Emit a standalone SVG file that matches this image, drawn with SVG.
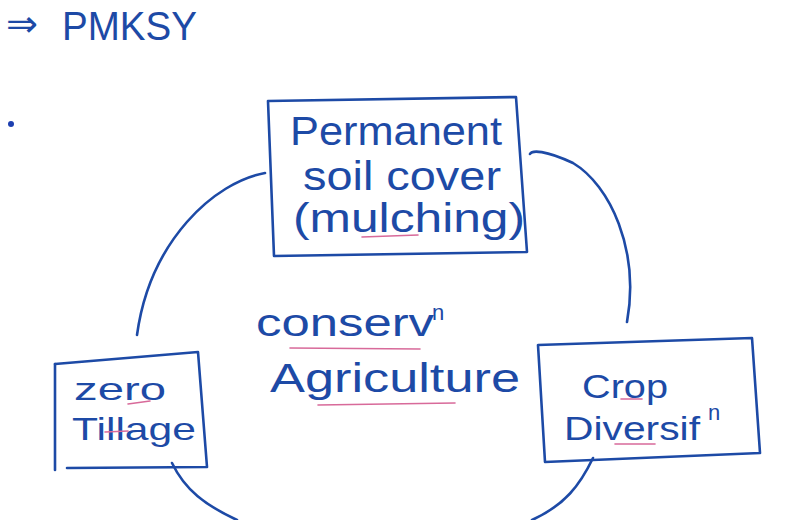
<svg xmlns="http://www.w3.org/2000/svg" width="800" height="520" viewBox="0 0 800 520">
<style>
.ink{fill:none;stroke:#1d4aa6;stroke-width:2.6;stroke-linecap:round;stroke-linejoin:round}
.hl{fill:none;stroke:#d86a9a;stroke-width:1.6;stroke-linecap:round}
.t{font-family:"Liberation Sans","DejaVu Sans",sans-serif;fill:#1d4aa6}
</style>
<rect width="800" height="520" fill="#ffffff"/>
<g id="title">
<text class="t" x="6" y="36" font-size="36" textLength="32" lengthAdjust="spacingAndGlyphs">⇒</text>
<text class="t" x="62" y="40" font-size="40" textLength="135" lengthAdjust="spacingAndGlyphs">PMKSY</text>
</g>
<circle cx="11" cy="124" r="3" fill="#1d3fb0"/>
<g id="connectors">
<path class="ink" d="M265,173 C215,182 150,240 137,335"/>
<path class="ink" d="M530,154 C532,150 545,150 573,163 C610,185 640,250 627,322"/>
<path class="ink" d="M172,463 C185,490 205,505 237,520"/>
<path class="ink" d="M593,458 C580,485 565,505 532,520"/>
</g>
<g id="node-permanent">
<path class="ink" d="M268,101 L516,97 L527,252 L274,256 Z"/>
<text class="t" x="290" y="145" font-size="40" textLength="212" lengthAdjust="spacingAndGlyphs">Permanent</text>
<text class="t" x="303" y="190" font-size="40" textLength="198" lengthAdjust="spacingAndGlyphs">soil cover</text>
<text class="t" x="293" y="232" font-size="40" textLength="232" lengthAdjust="spacingAndGlyphs">(mulching)</text>
<path class="hl" d="M362,237 L418,235"/>
</g>
<g id="node-zero">
<path class="ink" d="M55,364 L198,352 L207,467 L67,468"/>
<path class="ink" d="M55,364 L55,470"/>
<text class="t" x="74" y="400" font-size="32" textLength="92" lengthAdjust="spacingAndGlyphs">zero</text>
<text class="t" x="72" y="440" font-size="32" textLength="124" lengthAdjust="spacingAndGlyphs">Tillage</text>
<path class="hl" d="M128,404 L150,401"/>
<path class="hl" d="M105,432 L128,431"/>
</g>
<g id="node-crop">
<path class="ink" d="M538,345 L752,338 L760,453 L545,462 Z"/>
<text class="t" x="582" y="398" font-size="34" textLength="86" lengthAdjust="spacingAndGlyphs">Crop</text>
<text class="t" x="564" y="440" font-size="34" textLength="136" lengthAdjust="spacingAndGlyphs">Diversif</text>
<text class="t" x="708" y="420" font-size="22">n</text>
<path class="hl" d="M621,399 L642,399"/>
<path class="hl" d="M615,444 L655,444"/>
</g>
<g id="center-label">
<text class="t" x="256" y="336" font-size="38" textLength="178" lengthAdjust="spacingAndGlyphs">conserv</text>
<text class="t" x="432" y="320" font-size="22">n</text>
<path class="hl" d="M290,348 L420,349"/>
<text class="t" x="270" y="392" font-size="40" textLength="250" lengthAdjust="spacingAndGlyphs">Agriculture</text>
<path class="hl" d="M318,405 L455,403"/>
</g>
</svg>
